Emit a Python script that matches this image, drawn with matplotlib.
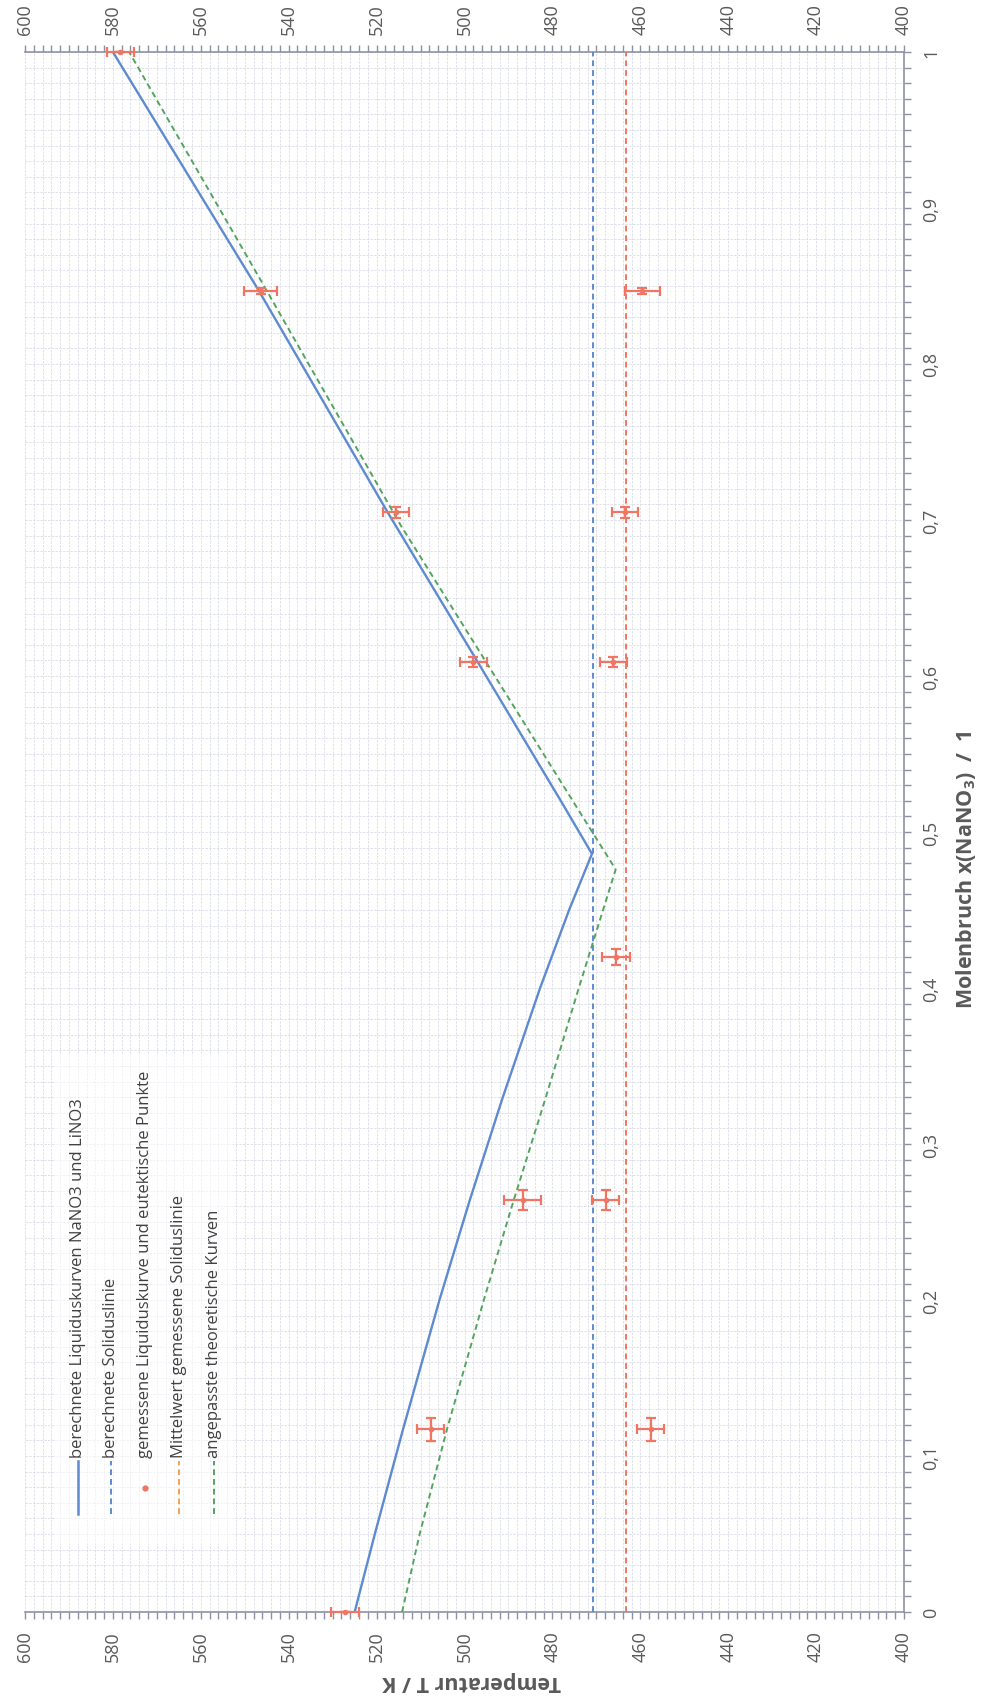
import matplotlib
matplotlib.use('Agg')
import matplotlib.pyplot as plt
from matplotlib.ticker import MultipleLocator, FuncFormatter
from matplotlib.lines import Line2D
from matplotlib.patches import Rectangle

plt.rcParams['font.family'] = ['Open Sans', 'DejaVu Sans']
plt.rcParams['mathtext.fontset'] = 'custom'
plt.rcParams['mathtext.rm'] = 'Open Sans'
plt.rcParams['mathtext.bf'] = 'Open Sans:bold'

# ---------------- data ----------------
# calculated liquidus curves (LiNO3 branch, then NaNO3 branch)
x_calc_liq = [0.0, 0.05, 0.117, 0.2, 0.264, 0.329, 0.4, 0.45, 0.486,
              0.521, 0.609, 0.705, 0.847, 1.0]
T_calc_liq = [525.0, 520.4, 514.0, 505.7, 498.8, 491.4, 482.8, 476.2, 471.0,
              478.3, 497.0, 517.5, 546.8, 580.0]

# calculated solidus line
x_calc_sol = [0.0, 1.0]
T_calc_sol = [470.8, 470.8]

# measured liquidus and eutectic points
x_meas = [0.0, 0.117, 0.117, 0.264, 0.264, 0.42, 0.609, 0.609, 0.705, 0.705, 0.847, 0.847, 1.0]
T_meas = [527.1, 507.7, 457.6, 486.8, 467.9, 465.6, 498.0, 466.1, 515.6, 463.5, 546.4, 459.5, 578.3]
T_err = [3.2, 3.1, 3.1, 4.1, 3.0, 3.2, 3.1, 3.1, 3.0, 3.0, 3.7, 4.0, 3.0]
x_err = [0.0, 0.0075, 0.0075, 0.0065, 0.0065, 0.005, 0.0035, 0.0035, 0.0035, 0.0035, 0.002, 0.002, 0.0]

# mean of measured solidus
x_mean_sol = [0.0, 1.0]
T_mean_sol = [463.3, 463.3]

# fitted theoretical curves
x_fit = [0.0, 0.05, 0.117, 0.2, 0.264, 0.329, 0.4, 0.476, 0.521, 0.697, 0.847, 1.0]
T_fit = [514.2, 510.2, 504.0, 495.6, 488.8, 481.6, 474.0, 465.6, 475.6, 514.6, 545.0, 576.3]

legend_labels = [
    'berechnete Liquiduskurven NaNO3 und LiNO3',
    'berechnete Soliduslinie',
    'gemessene Liquiduskurve und eutektische Punkte',
    'Mittelwert gemessene Soliduslinie',
    'angepasste theoretische Kurven',
]

x_ticks = [0, 0.1, 0.2, 0.3, 0.4, 0.5, 0.6, 0.7, 0.8, 0.9, 1.0]

# ---------------- styling ----------------
BLUE = '#5d8ad0'
GREEN = '#55a45e'
RED = '#f07664'
ORANGE = '#f5a256'
AX = '#8d91a3'
TXT = '#595959'
GRID = '#d9dce8'

W, H = 983, 1699
fig = plt.figure(figsize=(W / 100, H / 100), dpi=100)
L, R, T, B = 25, 904, 53, 1613
ax = fig.add_axes([L / W, 1 - B / H, (R - L) / W, (B - T) / H])

ax.set_xlim(600, 400)
ax.set_ylim(0, 1)

# grid
ax.xaxis.set_major_locator(MultipleLocator(20))
ax.xaxis.set_minor_locator(MultipleLocator(2))
ax.yaxis.set_major_locator(MultipleLocator(0.1))
ax.yaxis.set_minor_locator(MultipleLocator(0.01))
ax.grid(which='both', color=GRID, lw=0.6, ls=(0, (3, 1.5)))
ax.set_axisbelow(True)

# lines
ax.plot(T_calc_liq, x_calc_liq, color=BLUE, lw=1.7, zorder=3)
ax.plot(T_calc_sol, x_calc_sol, color=BLUE, lw=1.4, ls=(0, (3, 2)), zorder=3)
ax.plot(T_mean_sol, x_mean_sol, color=RED, lw=1.4, ls=(0, (3, 2)), zorder=3)
ax.plot(T_fit, x_fit, color=GREEN, lw=1.4, ls=(0, (3, 2)), zorder=3)
ax.errorbar(T_meas, x_meas, xerr=T_err, yerr=x_err, fmt='o', ms=3, color=RED,
            ecolor=RED, elinewidth=1.6, capsize=3.5, capthick=1.6, zorder=4,
            clip_on=False)

# spines & ticks
for s in ['top', 'bottom', 'right']:
    ax.spines[s].set_color(AX)
    ax.spines[s].set_linewidth(1.2)
ax.spines['left'].set_visible(False)

ax.tick_params(axis='x', which='both', top=True, bottom=True, labeltop=True,
               labelbottom=True, direction='out', length=5, width=1,
               color=AX, labelcolor=TXT, labelsize=13, labelrotation=90, pad=8)
ax.yaxis.tick_right()
ax.tick_params(axis='y', which='both', left=False, right=True, labelleft=False,
               labelright=True, direction='out', length=5, width=1,
               color=AX, labelcolor=TXT, labelsize=13, labelrotation=90, pad=8)
ax.set_yticks(x_ticks)
ax.yaxis.set_major_formatter(FuncFormatter(lambda v, p: ('%g' % round(v, 2)).replace('.', ',')))
ax.xaxis.set_major_formatter(FuncFormatter(lambda v, p: '%d' % v))
for lab in ax.get_yticklabels():
    lab.set_va('center')

# axis titles
fig.text(966 / W, 1 - 870 / H, 'Molenbruch x(NaNO$_\\mathbf{3}$)  /  1', rotation=90,
         ha='center', va='center', fontweight='bold', color=TXT, fontsize=15.5)
fig.text(472 / W, 1 - 1682 / H, 'Temperatur T / K', rotation=180,
         ha='center', va='center', fontweight='bold', color=TXT, fontsize=15.5)

# manual rotated legend
fig.add_artist(Rectangle((55 / W, 1 - 1545 / H), 178 / W, 490 / H,
                         transform=fig.transFigure, facecolor='white',
                         edgecolor='none', alpha=0.6, zorder=5))
cols = [78, 111, 145, 179, 214]
styles = [dict(color=BLUE, lw=1.8, ls='-'),
          dict(color=BLUE, lw=1.4, ls=(0, (3, 2))),
          None,
          dict(color=ORANGE, lw=1.4, ls=(0, (3, 2))),
          dict(color=GREEN, lw=1.4, ls=(0, (3, 2)))]
y_top, y_bot = 1462, 1515
for cx, st, lab in zip(cols, styles, legend_labels):
    if st is None:
        fig.add_artist(Line2D([cx / W], [1 - 1489 / H], marker='o', ms=3.5,
                              color=RED, ls='none', transform=fig.transFigure, zorder=6))
    else:
        fig.add_artist(Line2D([cx / W, cx / W], [1 - y_bot / H, 1 - y_top / H],
                              transform=fig.transFigure, zorder=6, **st))
    fig.text(cx / W, 1 - 1458 / H, lab, rotation=90, rotation_mode='anchor',
             ha='left', va='center', color='#404040', fontsize=12, zorder=7)

fig.savefig('out.png', dpi=100, facecolor='white')
